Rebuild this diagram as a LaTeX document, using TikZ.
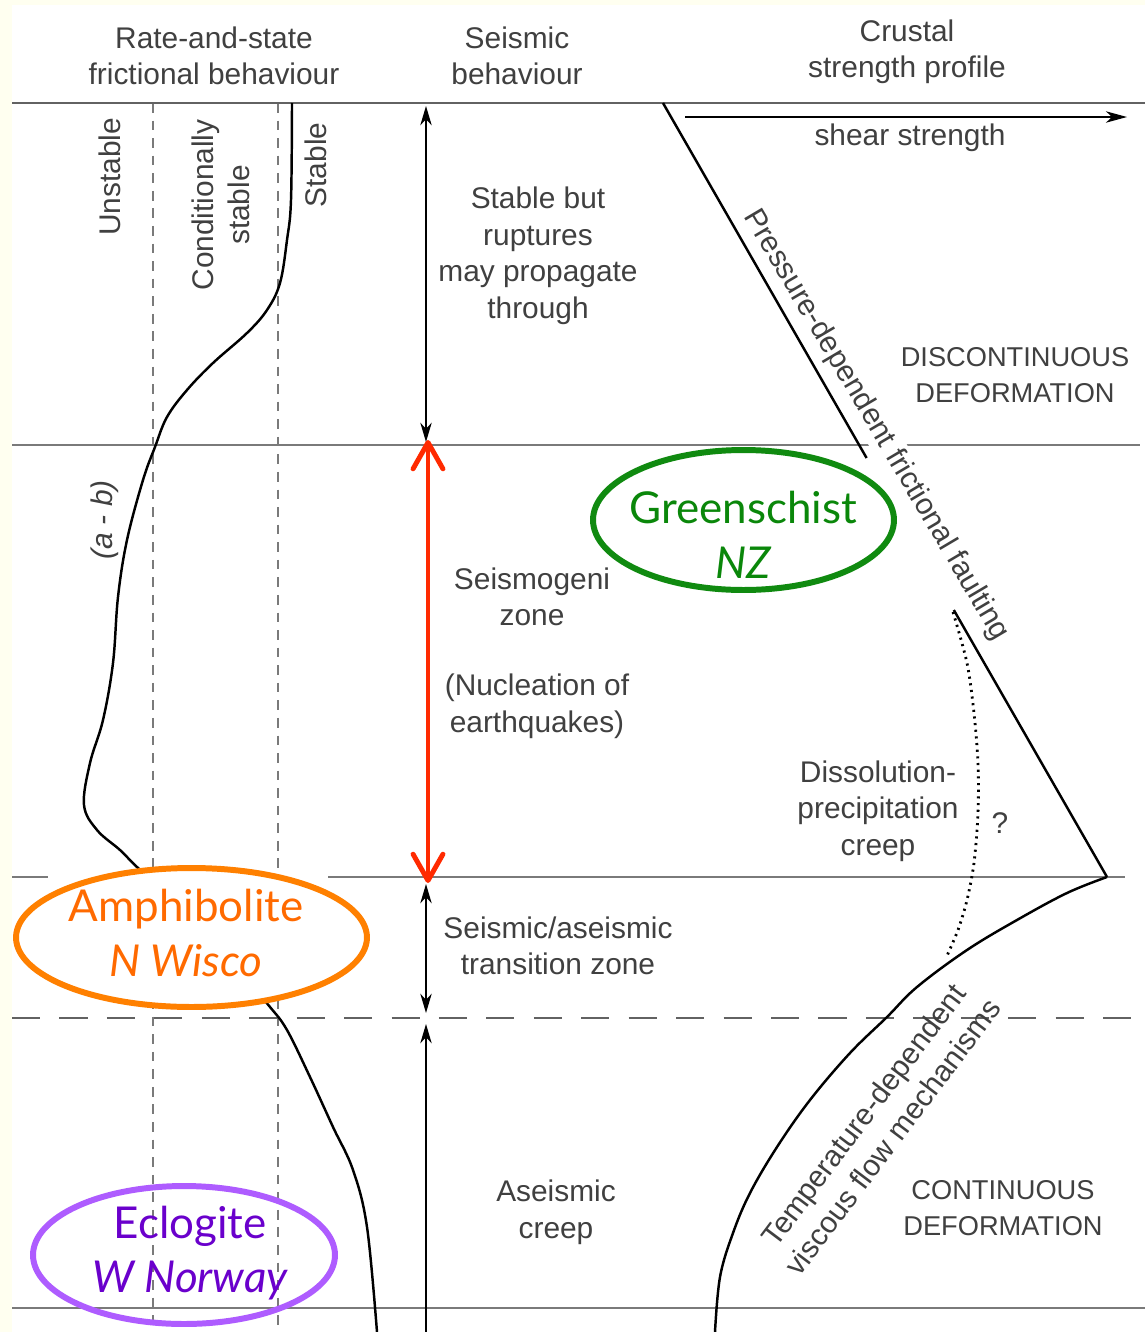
\documentclass[tikz,border=0pt]{standalone}
\usepackage{fontspec}
\setmainfont{Liberation Sans}
\newfontfamily\notefont{Lato}
\usetikzlibrary{arrows.meta,shapes.geometric}

\definecolor{ink}{HTML}{404040}
\definecolor{rule}{HTML}{7A7A7A}
\definecolor{cream}{HTML}{FFFFF0}
\definecolor{zonered}{HTML}{FF2A00}
\definecolor{greenline}{HTML}{108A10}
\definecolor{greenink}{HTML}{0A870A}
\definecolor{orangeline}{HTML}{FF8000}
\definecolor{orangeink}{HTML}{FF6A00}
\definecolor{purpleline}{HTML}{AE5CFF}
\definecolor{purpleink}{HTML}{6A00CC}

\newcommand\lblfont{\fontsize{17}{20.8}\selectfont}
\newcommand\capsfont{\fontsize{15.5}{20.8}\selectfont}
\newcommand\notesize{\fontsize{25}{31}\selectfont}

\begin{document}
\begin{tikzpicture}[x=0.02cm, y=-0.02cm, >=Stealth,
    txt/.style={text=ink, align=center, font=\lblfont, inner sep=0pt},
    capstxt/.style={txt, font=\capsfont},
    zoneline/.style={rule, line width=1pt},
    guide/.style={rule, line width=0.9pt, dash pattern=on 5.5pt off 4.5pt},
    profile/.style={black, line width=1.4pt},
    tip/.style={Stealth[length=11pt,width=6.5pt,inset=3.5pt]},
    depth/.style={black, line width=0.8pt, {Stealth[length=11pt,width=6.5pt,inset=3.5pt]}-{Stealth[length=11pt,width=6.5pt,inset=3.5pt]}},
    ring/.style={ellipse, line width=3.4pt, inner sep=0pt},
    notetext/.style={align=center, font=\notefont\notesize, inner sep=0pt}]

  % background and frame
  \useasboundingbox (0,0) rectangle (1145,1332);
  \fill[cream] (0,0) rectangle (1145,1332);
  \fill[white] (12,5) rectangle (1145,1332);

  % column guides and zone boundaries
  \draw[guide] (153,103) -- (153,1332);
  \draw[guide] (278,103) -- (278,1332);
  \draw[rule!80!black, line width=1.3pt] (12,103) -- (1145,103);
  \draw[zoneline] (12,445) -- (1140,445);
  \draw[zoneline] (12,877) -- (1125,877);
  \draw[zoneline] (12,1308) -- (1145,1308);
  \draw[rule!80!black, line width=1.1pt, dash pattern=on 16pt off 11pt] (12,1018) -- (1145,1018);

  % headers
  \node[txt] (rsf) at (214,56) {Rate-and-state\\frictional behaviour};
  \node[txt] (seis) at (517,56) {Seismic\\behaviour};
  \node[txt] (crust) at (907,52) {Crustal\\strength profile};

  % rate-and-state column
  \node[txt, rotate=90] (unstable) at (110,177) {Unstable};
  \node[txt, rotate=90] (condstable) at (221,205) {Conditionally\\stable};
  \node[txt, rotate=90] (stable) at (316,165) {Stable};
  \node[txt, rotate=90] (ab) at (105,520) {\itshape (a - b)};
  \draw[profile] plot[smooth, tension=0.6] coordinates {(292,103) (291,200) (287,240) (280,283)
    (267,310) (247,333) (213,363) (187,390) (167,417) (155,447) (143,480) (127,540)
    (118,597) (113,663) (103,720) (90,763) (84,805) (97,830) (120,850) (137,867)
    (170,897) (210,940) (248,982) (270,1007) (287,1030) (310,1077) (333,1127)
    (353,1170) (367,1227) (377,1332)};

  % seismic column
  \coordinate (d0) at (426,106);
  \coordinate (d1) at (426,442);
  \coordinate (d2) at (426,884);
  \coordinate (d3) at (426,1013);
  \coordinate (d4) at (426,1024);
  \coordinate (d5) at (426,1332);
  \draw[depth] (d0) -- (d1);
  \draw[depth] (d2) -- (d3);
  \draw[black, line width=0.8pt, {Stealth[length=11pt,width=6.5pt,inset=3.5pt]}-] (d4) -- (d5);
  \coordinate (r0) at (428,440);
  \coordinate (r1) at (428,883);
  \draw[zonered, line width=2.8pt, {Straight Barb[length=15pt,width=17pt,round]}-{Straight Barb[length=15pt,width=17pt,round]}] (r0) -- (r1);

  \node[txt] (stablebut) at (538,256) {Stable but\\ruptures\\may propagate\\through};
  \node[txt] (seismozone) at (532,597) {Seismogeni\\zone};
  \node[txt] (nucleation) at (537,706) {(Nucleation of\\earthquakes)};
  \node[txt] (transition) at (558,946) {Seismic/aseismic\\transition zone};
  \node[txt] (aseismic) at (556,1212) {Aseismic\\creep};

  % crustal strength profile
  \coordinate (s0) at (685,117);
  \coordinate (s1) at (1127,117);
  \draw[black, line width=0.8pt, -{Stealth[length=12pt,width=6.5pt,inset=3.5pt]}] (s0) -- (s1);
  \node[txt] (shear) at (910,138) {shear strength};
  \node[txt, rotate=-59.4, fill=white, inner sep=1.5pt] (pressure) at (876,425) {Pressure-dependent frictional faulting};
  \coordinate (p0) at (663,103);
  \coordinate (p1) at (866.6,458);
  \coordinate (p2) at (953.8,610);
  \coordinate (peak) at (1107,877);
  \draw[profile] (p0) -- (p1);
  \draw[profile] (p2) -- (peak);
  \draw[profile] plot[smooth, tension=0.6] coordinates {(1107,877) (1067,893) (1017,920)
    (967,950) (917,987) (887,1017) (850,1053) (810,1100) (777,1147) (750,1193)
    (733,1233) (720,1277) (715,1332)};
  \draw[black, line width=1.6pt, dash pattern=on 1.2pt off 2.6pt] plot[smooth] coordinates {(953,612)
    (967,663) (974,713) (978,763) (978,813) (974,863) (967,900) (958,930) (946,958)};
  \node[txt] (dissolution) at (878,811) {Dissolution-\\precipitation\\creep};
  \node[txt] (query) at (1000,823) {?};
  \node[capstxt] (discont) at (1015,375) {DISCONTINUOUS\\DEFORMATION};
  \node[capstxt] (cont) at (1003,1208) {CONTINUOUS\\DEFORMATION};
  \node[txt, rotate=53] (temperature) at (878,1126) {Temperature-dependent\\viscous flow mechanisms};

  % annotations
  \fill[white] (48,869) rectangle (328,885);
  \node[ring, draw=greenline, fill=white, minimum width=6.02cm, minimum height=2.8cm] (greenring) at (743.5,520) {};
  \node[notetext, text=greenink] (greenschist) at (743,535) {Greenschist\\\itshape NZ};
  \node[ring, draw=orangeline, fill=white, minimum width=7.02cm, minimum height=2.78cm] (orangering) at (191.5,937.5) {};
  \node[notetext, text=orangeink] (amphibolite) at (186,933) {Amphibolite\\\itshape N Wisco};
  \node[ring, draw=purpleline, minimum width=6.04cm, minimum height=2.76cm] (purplering) at (184,1255) {};
  \node[notetext, text=purpleink] (eclogite) at (190,1253) {Eclogite\\\itshape W Norway};
\end{tikzpicture}
\end{document}
